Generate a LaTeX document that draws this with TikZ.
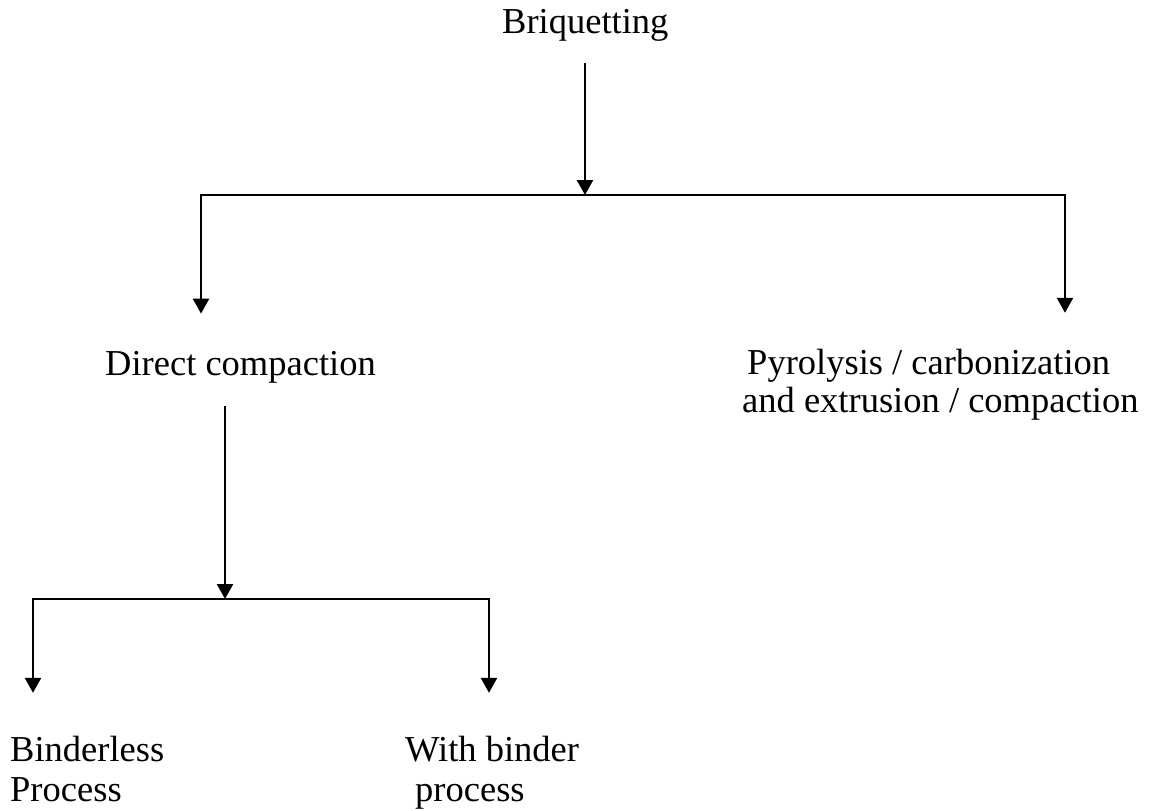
\documentclass[tikz,border=0pt]{standalone}
\usepackage{fontspec}
\setmainfont{Liberation Serif}
\usetikzlibrary{arrows.meta}
\begin{document}
\begin{tikzpicture}[x=1pt,y=-1pt,
  lbl/.style={inner sep=0pt, anchor=base west, font=\fontsize{36.5}{40}\selectfont},
  link/.style={line width=2.5pt, line cap=rect},
  arr/.style={link, -{Triangle[width=16pt,length=15pt]}}]
\useasboundingbox (0,0) rectangle (1149,811);
% labels
\node[lbl] (brq) at (502,33) {Briquetting};
\node[lbl] (dc) at (105,375) {Direct compaction};
\node[lbl] (pyr) at (742,374) {\begin{tabular}[t]{@{}l@{}}\hspace*{5pt}Pyrolysis / carbonization\\[-2pt]and extrusion / compaction\end{tabular}};
\node[lbl] (bp) at (10,761) {\begin{tabular}[t]{@{}l@{}}Binderless\\Process\end{tabular}};
\node[lbl] (wb) at (405,761) {\begin{tabular}[t]{@{}l@{}}With binder\\\hspace*{10pt}process\end{tabular}};
% junction points
\coordinate (j1) at (585,195);
\coordinate (l1) at (201,195);
\coordinate (r1) at (1065,195);
\coordinate (j2) at (225,599);
\coordinate (l2) at (33,599);
\coordinate (r2) at (489,599);
% level 1
\draw[arr, shorten <=23pt] (brq.south -| j1) -- (j1);
\draw[link] (l1) -- (r1);
\draw[arr, shorten >=37pt] (l1) -- (l1 |- dc.north);
\draw[arr, shorten >=33pt] (r1) -- (r1 |- pyr.north);
% level 2
\draw[arr, shorten <=24pt] (dc.south -| j2) -- (j2);
\draw[link] (l2) -- (r2);
\draw[arr, shorten >=40pt] (l2) -- (l2 |- bp.north);
\draw[arr, shorten >=40pt] (r2) -- (r2 |- wb.north);
\end{tikzpicture}
\end{document}
